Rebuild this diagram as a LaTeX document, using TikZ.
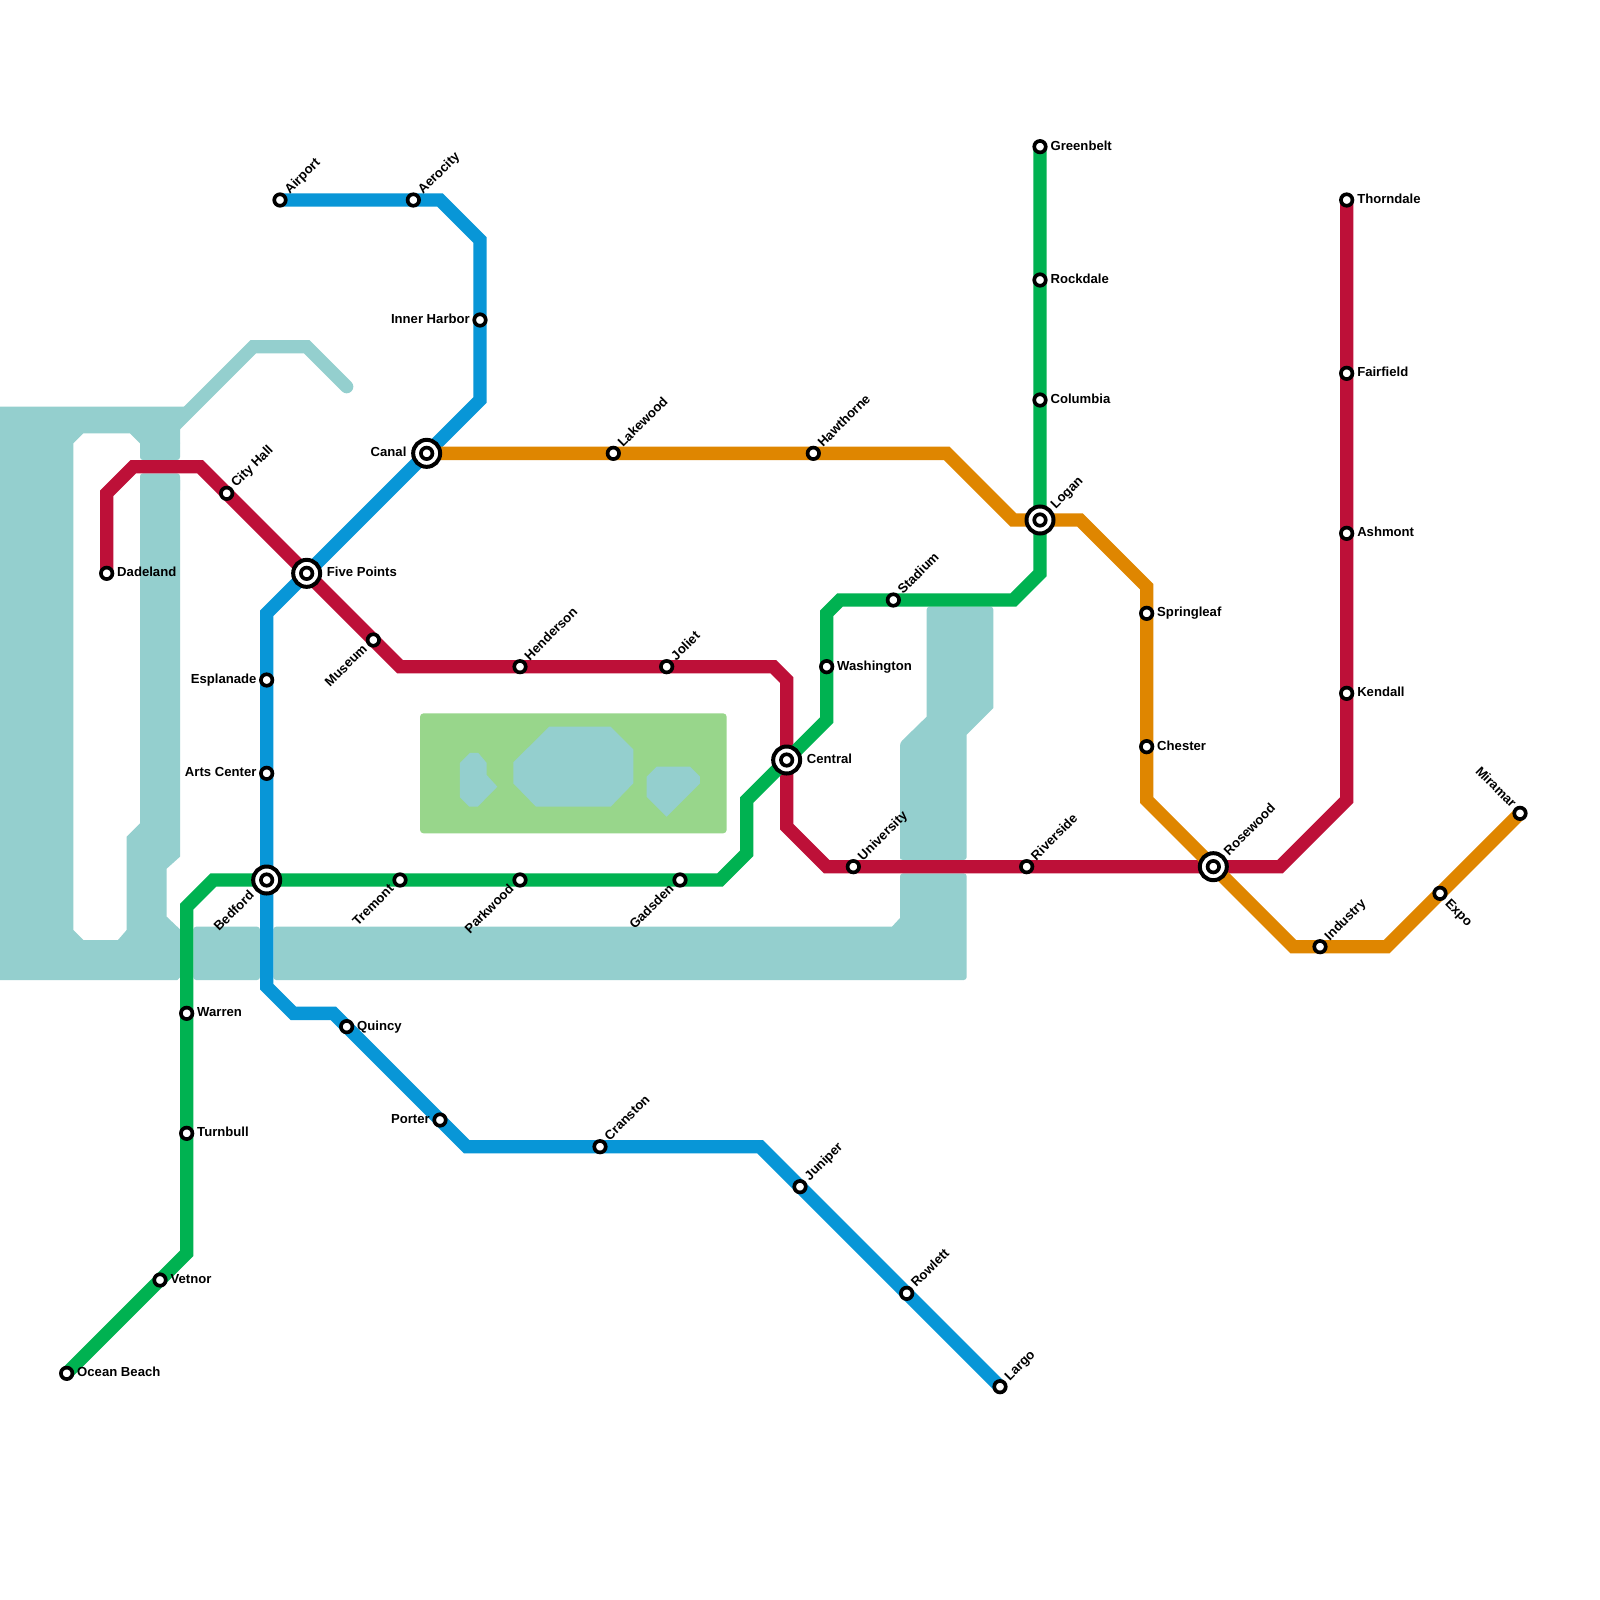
\documentclass[tikz,border=0pt]{standalone}
\usepackage{fontspec}
\setmainfont{Liberation Sans}
\pgfdeclarelayer{bg}
\pgfsetlayers{bg,main}
\definecolor{water}{HTML}{94CFCE}
\definecolor{park}{HTML}{98D68B}
\definecolor{redl}{HTML}{BD1038}
\definecolor{bluel}{HTML}{0896D7}
\definecolor{greenl}{HTML}{00B251}
\definecolor{orangel}{HTML}{DF8600}
\tikzset{
  stn/.style={circle,draw=black,fill=white,line width=0.11cm,minimum size=0.345cm,inner sep=0pt},
  hub/.style={circle,draw=black,fill=white,line width=0.12cm,minimum size=0.81cm,inner sep=0pt},
  txt/.style={inner sep=0pt,font=\fontsize{11.2}{13}\bfseries\selectfont,text height=0.28cm,text depth=0pt},
  R/.style={txt,anchor=west,shift={(0.31cm,0.04cm)}},
  L/.style={txt,anchor=east,shift={(-0.3cm,0.04cm)}},
  UR/.style={txt,shift={(0.19cm,0.26cm)},rotate=45,anchor=west},
  DL/.style={txt,shift={(-0.26cm,-0.19cm)},rotate=45,anchor=east},
  DR/.style={txt,shift={(0.23cm,-0.23cm)},rotate=-45,anchor=west},
  UL/.style={txt,shift={(-0.17cm,0.25cm)},rotate=-45,anchor=east},
  HR/.style={txt,anchor=west,shift={(0.6cm,0.04cm)}},
  HL/.style={txt,anchor=east,shift={(-0.6cm,0.04cm)}},
  HUR/.style={txt,shift={(0.37cm,0.41cm)},rotate=45,anchor=west},
  HDL/.style={txt,shift={(-0.45cm,-0.38cm)},rotate=45,anchor=east},
  metro/.style={line width=0.4cm,miter limit=10},
  waterfill/.style={fill=water},
  parkfill/.style={fill=park},
  pxs/.style={x=0.03cm,y=-0.03cm},
}
\newcommand{\Stn}[5]{\node[stn] (#1) at (#2,#3) {}; \node[#4] (#1-t) at (#1) {#5};}
\newcommand{\Hub}[5]{\node[hub] (#1o) at (#2,#3) {}; \node[stn] (#1) at (#2,#3) {}; \node[#4] (#1-t) at (#1) {#5};}
\begin{document}
\begin{tikzpicture}[x=0.4cm,y=-0.4cm]
\useasboundingbox (0,0) rectangle (120,120);
% stations
\Stn{ob}{5}{103}{R}{Ocean Beach}
\Stn{vet}{12}{96}{R}{Vetnor}
\Stn{war}{14}{76}{R}{Warren}
\Stn{tur}{14}{85}{R}{Turnbull}
\Hub{bed}{20}{66}{HDL}{Bedford}
\Stn{tre}{30}{66}{DL}{Tremont}
\Stn{par}{39}{66}{DL}{Parkwood}
\Stn{gad}{51}{66}{DL}{Gadsden}
\Hub{cen}{59}{57}{HR}{Central}
\Stn{was}{62}{50}{R}{Washington}
\Stn{sta}{67}{45}{UR}{Stadium}
\Hub{log}{78}{39}{HUR}{Logan}
\Stn{col}{78}{30}{R}{Columbia}
\Stn{roc}{78}{21}{R}{Rockdale}
\Stn{gre}{78}{11}{R}{Greenbelt}
\Stn{air}{21}{15}{UR}{Airport}
\Stn{aer}{31}{15}{UR}{Aerocity}
\Stn{inn}{36}{24}{L}{Inner Harbor}
\Hub{can}{32}{34}{HL}{Canal}
\Hub{fiv}{23}{43}{HR}{Five Points}
\Stn{esp}{20}{51}{L}{Esplanade}
\Stn{art}{20}{58}{L}{Arts Center}
\Stn{qui}{26}{77}{R}{Quincy}
\Stn{por}{33}{84}{L}{Porter}
\Stn{cra}{45}{86}{UR}{Cranston}
\Stn{jun}{60}{89}{UR}{Juniper}
\Stn{row}{68}{97}{UR}{Rowlett}
\Stn{lar}{75}{104}{UR}{Largo}
\Stn{dad}{8}{43}{R}{Dadeland}
\Stn{cit}{17}{37}{UR}{City Hall}
\Stn{mus}{28}{48}{DL}{Museum}
\Stn{hen}{39}{50}{UR}{Henderson}
\Stn{jol}{50}{50}{UR}{Joliet}
\Stn{uni}{64}{65}{UR}{University}
\Stn{riv}{77}{65}{UR}{Riverside}
\Hub{ros}{91}{65}{HUR}{Rosewood}
\Stn{ken}{101}{52}{R}{Kendall}
\Stn{ash}{101}{40}{R}{Ashmont}
\Stn{fai}{101}{28}{R}{Fairfield}
\Stn{tho}{101}{15}{R}{Thorndale}
\Stn{lak}{46}{34}{UR}{Lakewood}
\Stn{haw}{61}{34}{UR}{Hawthorne}
\Stn{spr}{86}{46}{R}{Springleaf}
\Stn{che}{86}{56}{R}{Chester}
\Stn{ind}{99}{71}{UR}{Industry}
\Stn{exp}{108}{67}{DR}{Expo}
\Stn{mir}{114}{61}{UL}{Miramar}
% bends
\foreach \n/\x/\y in {g1/14/94,g2/14/68,g3/16/66,g4/54/66,g5/56/64,g6/56/60,g7/62/54,g8/62/46,g9/63/45,g10/76/45,g11/78/43,
  b1/33/15,b2/36/18,b3/36/30,b4/20/46,b5/20/74,b6/22/76,b7/25/76,b8/35/86,b9/57/86,
  r1/8/37,r2/10/35,r3/15/35,r4/30/50,r5/58/50,r6/59/51,r7/59/62,r8/62/65,r9/96/65,r10/101/60,
  o1/71/34,o2/76/39,o3/81/39,o4/86/44,o5/86/60,o6/97/71,o7/104/71}
  {\coordinate (\n) at (\x,\y);}
\begin{pgfonlayer}{bg}
\fill[white] (0,0) rectangle (120,120);
% water and parks
\fill[waterfill] (0,30.5) -- (14,30.5) -- (13.5,31) -- (13.5,33.25) -- (10.5,33.25) -- (9.75,32.5) -- (6.25,32.5) -- (5.5,33.25)
  -- (5.5,69.75) -- (6.25,70.5) -- (8.85,70.5) -- (9.5,69.75) -- (9.5,62.75) -- (10.5,61.75) -- (10.5,36) -- (13.5,36)
  -- (13.5,64.25) -- (12.5,65.15) -- (12.5,68.75) -- (13.5,69.7) -- (13.5,73) -- (13.5,73.3) -- (13.3,73.5) -- (0,73.5) -- cycle;
\fill[waterfill,rounded corners=2.5pt] (10.5,33) rectangle (13.5,34.5);
\fill[waterfill,rounded corners=2.5pt] (10.5,35.5) rectangle (13.5,37);
\draw[water,line width=0.4cm,line cap=round] (13,32) -- (19,26) -- (23,26) -- (26,29);
\fill[waterfill,rounded corners=2.5pt] (14.5,69.5) rectangle (19.5,73.5);
\fill[waterfill] (20.5,70) [rounded corners=2.5pt] -- (20.5,69.5) -- (65.9,69.5) [sharp corners] -- (66.9,69.5) -- (67.5,68.85) [rounded corners=2.5pt] -- (67.5,65.5) -- (72.5,65.5) -- (72.5,73.5) -- (20.5,73.5) -- cycle;
\fill[waterfill] (67.5,64.4) [rounded corners=2.5pt] -- (67.5,55.7) [sharp corners] -- (69.5,53.75) [rounded corners=2.5pt] -- (69.5,45.5) -- (74.5,45.5) [sharp corners] -- (74.5,53.1) -- (72.5,55.1) [rounded corners=2.5pt] -- (72.5,64.5) -- (67.5,64.5) -- cycle;
\fill[parkfill,rounded corners=3pt] (31.5,53.5) rectangle (54.5,62.5);
\begin{scope}[pxs]
\fill[waterfill] (460,763) -- (470,753) -- (478.3,753) -- (486.7,763) -- (486.7,775) -- (497.3,786.7) -- (477.7,806.7) -- (469.3,806.7) -- (460,797.3) -- cycle;
\fill[waterfill] (513.3,762.3) -- (549.3,726.7) -- (610.7,726.7) -- (633.3,749.3) -- (633.3,783.3) -- (610.7,806.7) -- (536,806.7) -- (513.3,783.3) -- cycle;
\fill[waterfill] (646.7,776.7) -- (656.7,766.7) -- (690,766.7) -- (700,776.7) -- (700,783.3) -- (666.7,816.7) -- (646.7,796.7) -- cycle;
\end{scope}
% lines
\draw[metro,bluel] (air.center) -- (aer.center) -- (b1) -- (b2) -- (inn.center) -- (b3) -- (can.center) -- (fiv.center) -- (b4) -- (esp.center) -- (art.center) -- (bed.center) -- (b5) -- (b6) -- (b7) -- (qui.center) -- (por.center) -- (b8) -- (cra.center) -- (b9) -- (jun.center) -- (row.center) -- (lar.center);
\draw[metro,redl] (dad.center) -- (r1) -- (r2) -- (r3) -- (cit.center) -- (fiv.center) -- (mus.center) -- (r4) -- (hen.center) -- (jol.center) -- (r5) -- (r6) -- (cen.center) -- (r7) -- (r8) -- (uni.center) -- (riv.center) -- (ros.center) -- (r9) -- (r10) -- (ken.center) -- (ash.center) -- (fai.center) -- (tho.center);
\draw[metro,orangel] (can.center) -- (lak.center) -- (haw.center) -- (o1) -- (o2) -- (log.center) -- (o3) -- (o4) -- (spr.center) -- (che.center) -- (o5) -- (ros.center) -- (o6) -- (ind.center) -- (o7) -- (exp.center) -- (mir.center);
\draw[metro,greenl] (ob.center) -- (vet.center) -- (g1) -- (tur.center) -- (war.center) -- (g2) -- (g3) -- (bed.center) -- (tre.center) -- (par.center) -- (gad.center) -- (g4) -- (g5) -- (g6) -- (cen.center) -- (g7) -- (was.center) -- (g8) -- (g9) -- (sta.center) -- (g10) -- (g11) -- (log.center) -- (col.center) -- (roc.center) -- (gre.center);
\end{pgfonlayer}
\end{tikzpicture}
\end{document}
